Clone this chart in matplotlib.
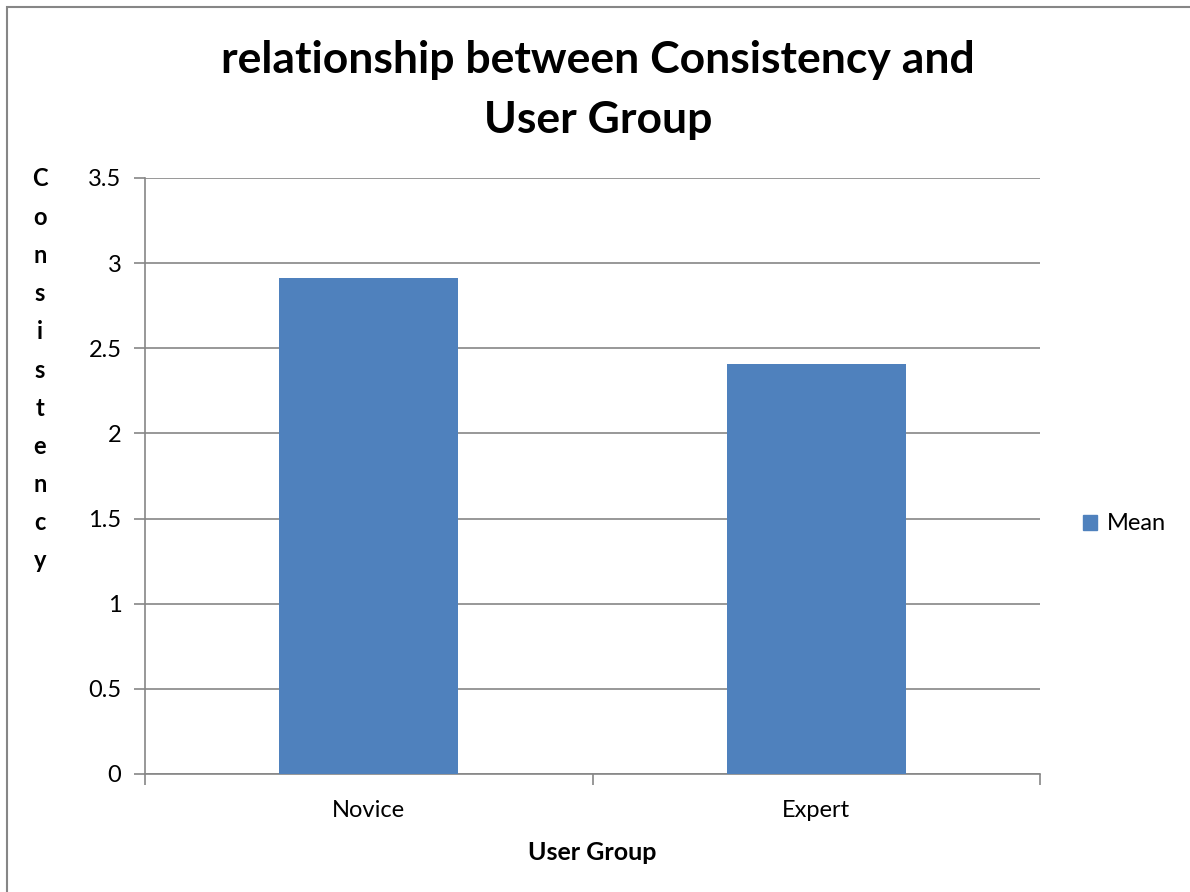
import matplotlib
matplotlib.use("Agg")
import matplotlib.pyplot as plt
from matplotlib.patches import Rectangle, Patch

plt.rcParams['font.family'] = ['Lato', 'DejaVu Sans']

groups = ['Novice', 'Expert']
mean_values = [2.91, 2.41]
y_ticks = [0, 0.5, 1, 1.5, 2, 2.5, 3, 3.5]
y_tick_labels = ['0', '0.5', '1', '1.5', '2', '2.5', '3', '3.5']

bar_color = '#4F81BD'
axis_color = '#868686'

fig = plt.figure(figsize=(11.9, 8.92), dpi=100)
ax = fig.add_axes([145 / 1190, 1 - 774 / 892, (1040 - 145) / 1190, (774 - 178) / 892])

# outer chart frame (only left and top edges fall inside the image)
fig.patches.append(Rectangle((7 / 1190, -0.1), 1.2, 1.1 - 7 / 892,
                             transform=fig.transFigure, fill=False,
                             edgecolor=axis_color, linewidth=1.5))

x = range(len(groups))
ax.bar(x, mean_values, width=0.4, color=bar_color, zorder=3)

ax.set_xlim(-0.5, len(groups) - 0.5)
ax.set_ylim(0, 3.5)
ax.set_yticks(y_ticks)
ax.set_yticklabels(y_tick_labels, fontsize=17)
ax.yaxis.grid(True, color=axis_color, linewidth=1.2, zorder=0)
ax.tick_params(axis='y', length=8, color=axis_color, width=1.2, pad=9)

ax.set_xticks(list(x))
ax.set_xticklabels(groups, fontsize=17)
ax.set_xticks([-0.5, 0.5, 1.5], minor=True)
ax.tick_params(axis='x', which='major', length=0, pad=19)
ax.tick_params(axis='x', which='minor', length=8, color=axis_color, width=1.2)

for side in ['top', 'right']:
    ax.spines[side].set_visible(False)
for side in ['left', 'bottom']:
    ax.spines[side].set_color(axis_color)
    ax.spines[side].set_linewidth(1.2)

fig.text(598 / 1190, 1 - 60 / 892, 'relationship between Consistency and',
         ha='center', va='center', fontsize=32, fontweight='bold')
fig.text(598 / 1190, 1 - 120 / 892, 'User Group',
         ha='center', va='center', fontsize=32, fontweight='bold')

fig.text(592 / 1190, 1 - 852 / 892, 'User Group', ha='center', va='center',
         fontsize=18, fontweight='bold')

# y title stacked letter by letter
fig.text(40 / 1190, 1 - 370 / 892, '\n'.join('Consistency'), ha='center',
         va='center', fontsize=17, fontweight='bold', linespacing=1.8)

fig.legend(handles=[Patch(color=bar_color, label='Mean')], loc='center left',
           bbox_to_anchor=(1062 / 1190, 1 - 524 / 892), frameon=False,
           fontsize=17, handlelength=0.6, handleheight=0.6, handletextpad=0.4)

fig.savefig('out.png', dpi=100)
